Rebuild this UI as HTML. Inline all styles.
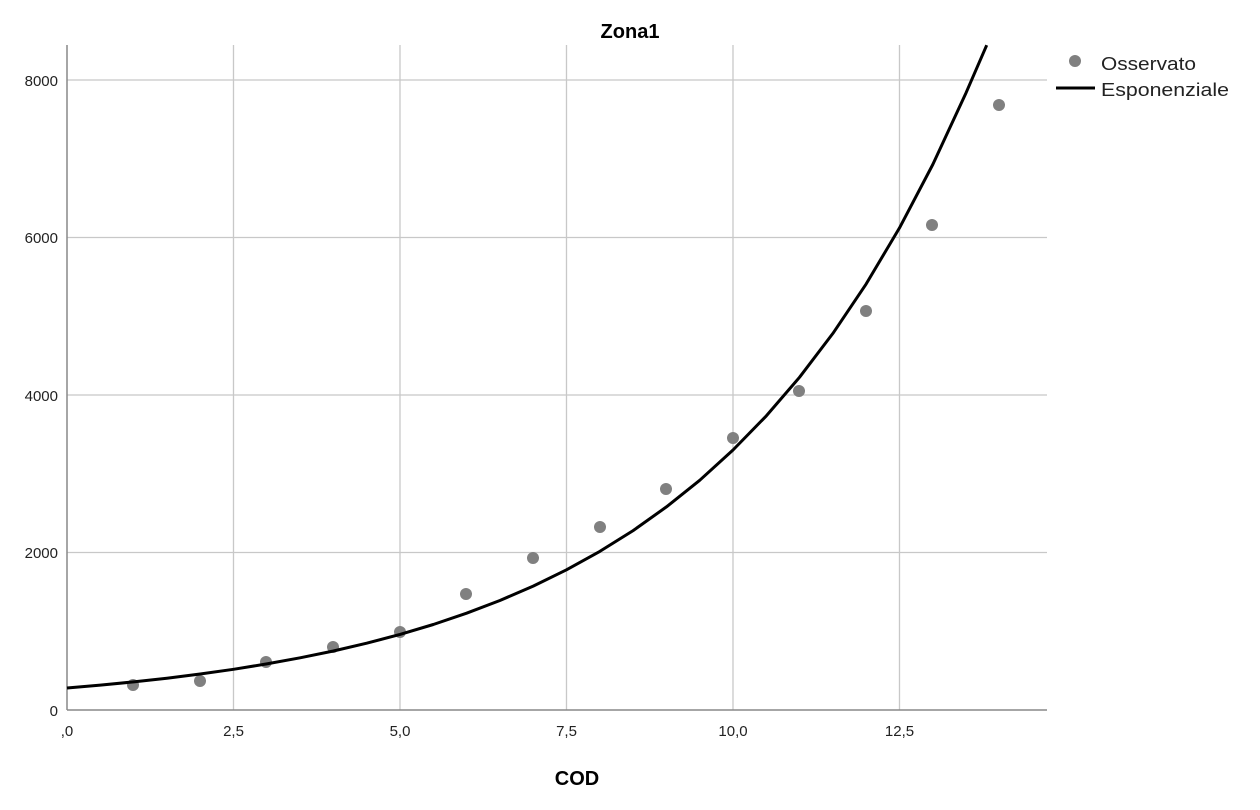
<!DOCTYPE html>
<html><head><meta charset="utf-8"><style>body{margin:0;background:#fff}svg{display:block}</style></head>
<body>
<svg width="1260" height="810" viewBox="0 0 1260 810" font-family="Liberation Sans, Arial, sans-serif">
<rect width="1260" height="810" fill="#fff"/>
<g stroke="#c8c8c8" stroke-width="1.3">
<line x1="233.5" y1="45" x2="233.5" y2="710"/>
<line x1="400" y1="45" x2="400" y2="710"/>
<line x1="566.5" y1="45" x2="566.5" y2="710"/>
<line x1="733" y1="45" x2="733" y2="710"/>
<line x1="899.5" y1="45" x2="899.5" y2="710"/>
<line x1="67" y1="552.5" x2="1047" y2="552.5"/>
<line x1="67" y1="395" x2="1047" y2="395"/>
<line x1="67" y1="237.5" x2="1047" y2="237.5"/>
<line x1="67" y1="80" x2="1047" y2="80"/>
</g>
<g stroke="#888" stroke-width="1.5">
<line x1="67" y1="45" x2="67" y2="710"/>
<line x1="67" y1="710" x2="1047" y2="710"/>
</g>
<g fill="#808080">
<circle cx="133" cy="685" r="6"/><circle cx="200" cy="681" r="6"/><circle cx="266" cy="662" r="6"/>
<circle cx="333" cy="647" r="6"/><circle cx="400" cy="632" r="6"/><circle cx="466" cy="594" r="6"/>
<circle cx="533" cy="558" r="6"/><circle cx="600" cy="527" r="6"/><circle cx="666" cy="489" r="6"/>
<circle cx="733" cy="438" r="6"/><circle cx="799" cy="391" r="6"/><circle cx="866" cy="311" r="6"/>
<circle cx="932" cy="225" r="6"/><circle cx="999" cy="105" r="6"/>
</g>
<polyline fill="none" stroke="#000" stroke-width="3" stroke-linejoin="round" points="67,688 100.3,685.1 133.6,681.9 166.9,678.2 200.2,674 233.5,669.3 266.8,663.9 300.1,657.8 333.4,651 366.7,643.2 400,634.4 433.3,624.5 466.6,613.2 499.9,600.5 533.2,586.1 566.5,569.8 599.8,551.4 633.1,530.6 666.4,506.9 699.7,480.3 733,450 766.3,415.9 799.6,377.2 832.9,333.4 866.2,283.9 899.5,227.9 932.8,164.5 966.1,92.7 986.7,45.2"/>
<text x="630" y="38" text-anchor="middle" font-size="20" font-weight="bold">Zona1</text>
<text x="577" y="785" text-anchor="middle" font-size="20" font-weight="bold">COD</text>
<g font-size="15" fill="#222" text-anchor="end">
<text x="58" y="716">0</text><text x="58" y="558">2000</text><text x="58" y="401">4000</text>
<text x="58" y="243">6000</text><text x="58" y="86">8000</text>
</g>
<g font-size="15" fill="#222" text-anchor="middle">
<text x="67" y="736">,0</text><text x="233.5" y="736">2,5</text><text x="400" y="736">5,0</text>
<text x="566.5" y="736">7,5</text><text x="733" y="736">10,0</text><text x="899.5" y="736">12,5</text>
</g>
<circle cx="1075" cy="61" r="6" fill="#808080"/>
<line x1="1056" y1="88" x2="1095" y2="88" stroke="#000" stroke-width="3"/>
<g font-size="18" fill="#222">
<text x="1101" y="70" textLength="95" lengthAdjust="spacingAndGlyphs">Osservato</text>
<text x="1101" y="96" textLength="128" lengthAdjust="spacingAndGlyphs">Esponenziale</text>
</g>
</svg>
</body></html>
